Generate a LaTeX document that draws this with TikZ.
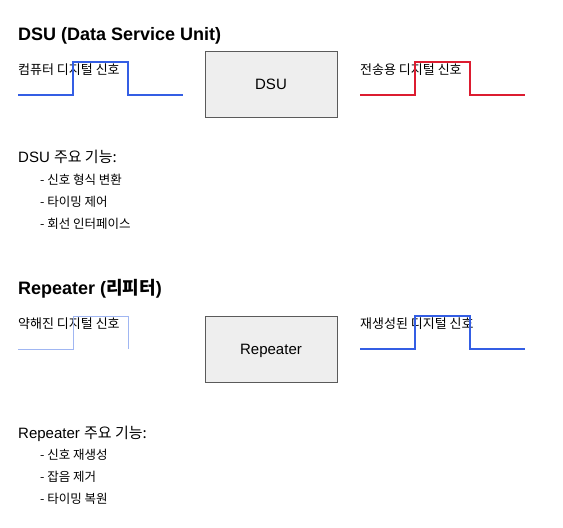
\documentclass[tikz,border=0pt]{standalone}
\usepackage{fontspec}
\setmainfont{Liberation Sans}
\newfontfamily\kr{Noto Sans CJK KR}
\begin{document}
\begin{tikzpicture}[x=1pt,y=-1pt,
	titel/.style={anchor=base west,inner sep=0,font=\fontsize{18}{20}\selectfont\bfseries},
	kop/.style={anchor=base west,inner sep=0,font=\fontsize{15}{17}\selectfont},
	label/.style={anchor=base west,inner sep=0,font=\fontsize{13}{15}\selectfont\kr},
	punt/.style={anchor=base west,inner sep=0,font=\fontsize{12.5}{14}\selectfont\kr},
	kastje/.style={draw=rand,fill=vulling,line width=0.8pt,minimum width=132pt,minimum height=66pt,inner sep=0,text depth=0pt,font=\fontsize{15}{17}\selectfont}]
	\definecolor{blauw}{RGB}{52,94,228}
	\definecolor{rood}{RGB}{220,28,48}
	\definecolor{lichtblauw}{RGB}{160,182,242}
	\definecolor{vulling}{RGB}{238,238,238}
	\definecolor{rand}{RGB}{90,90,90}
	
	\useasboundingbox (0,0) rectangle (563,528);
	
	%DSU
	\node[titel] (dsutitel) at (18,40) {DSU (Data Service Unit)};
	\node[label] (invoer) at (18,74) {컴퓨터 디지털 신호};
	\node[label] (uitvoer) at (360,74) {전송용 디지털 신호};
	\node[kastje] (dsu) at (271,84.5) {DSU};
	\draw[blauw,line width=2pt] (18,95) -- (73,95) -- (73,62) -- (128,62) -- (128,95) -- (183,95);
	\draw[rood,line width=2pt] (360,95) -- (415,95) -- (415,62) -- (470,62) -- (470,95) -- (525,95);
	\node[kop] (dsukop) at (18,162) {DSU {\kr 주요 기능:}};
	\node[punt] (dsu1) at (40,184) {- 신호 형식 변환};
	\node[punt] (dsu2) at (40,206) {- 타이밍 제어};
	\node[punt] (dsu3) at (40,228) {- 회선 인터페이스};
	
	%Repeater
	\node[titel] (reptitel) at (18,294) {Repeater ({\kr 리피터})};
	\node[label] (zwak) at (18,328) {약해진 디지털 신호};
	\node[label] (sterk) at (360,328) {재생성된 디지털 신호};
	\node[kastje] (rep) at (271,349) {Repeater};
	\draw[lichtblauw,line width=1pt] (18,349) -- (73,349) -- (73,316) -- (128,316) -- (128,349);
	\draw[blauw,line width=2pt] (360,349) -- (415,349) -- (415,316) -- (470,316) -- (470,349) -- (525,349);
	\node[kop] (repkop) at (18,438) {Repeater {\kr 주요 기능:}};
	\node[punt] (rep1) at (40,459) {- 신호 재생성};
	\node[punt] (rep2) at (40,481) {- 잡음 제거};
	\node[punt] (rep3) at (40,503) {- 타이밍 복원};
\end{tikzpicture}
\end{document}
